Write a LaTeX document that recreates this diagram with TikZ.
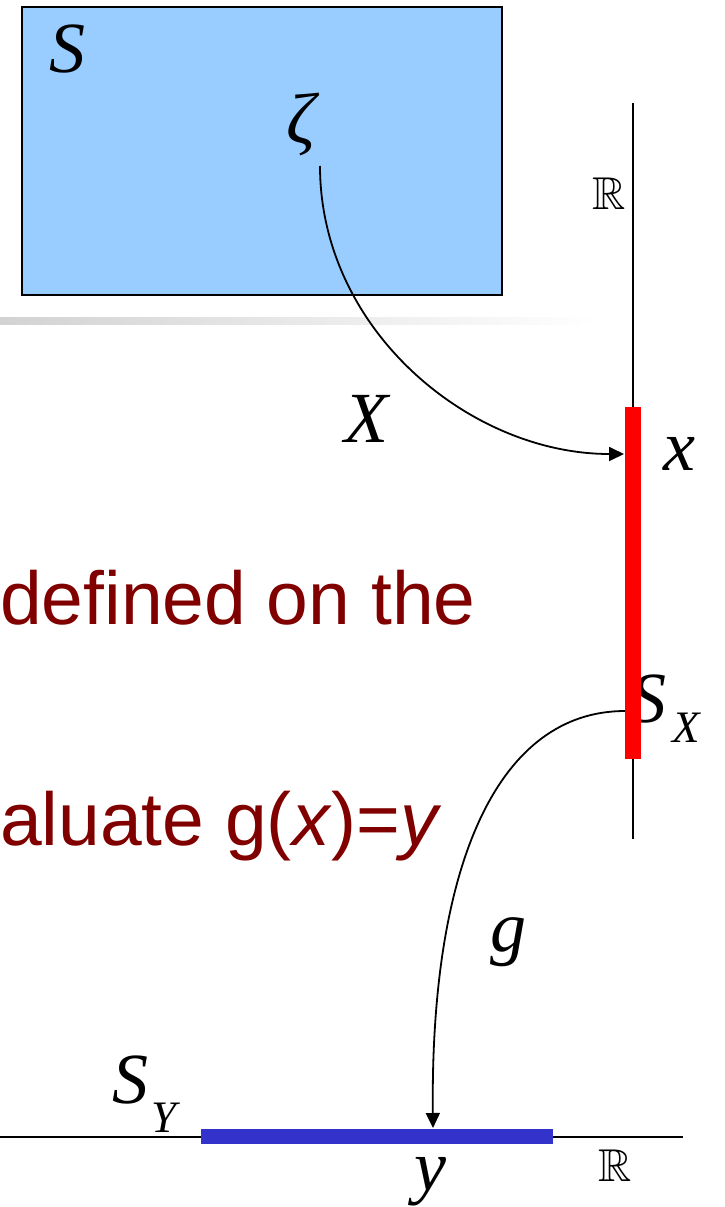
\documentclass[tikz,border=0pt]{standalone}
\usepackage{fontspec}
\usepackage{amssymb}
\usetikzlibrary{arrows.meta}
\newfontfamily\tmsit{Liberation Serif Italic}
\newfontfamily\arl{Liberation Sans}
\definecolor{boxblue}{HTML}{99CCFF}
\definecolor{darkred}{HTML}{800000}
\definecolor{barblue}{HTML}{3333CC}
\begin{document}
\begin{tikzpicture}[x=1pt,y=-1pt,
  lbl/.style={inner sep=0pt,anchor=base,font=\tmsit\fontsize{72}{72}\selectfont},
  rr/.style={inner sep=0pt,font=\fontsize{46}{46}\selectfont},
  txt/.style={inner sep=0pt,anchor=base west,text=darkred,font=\arl\fontsize{75}{75}\selectfont},
  conn/.style={line width=1.8pt,-{Triangle[length=15pt,width=14pt]}},
  axis/.style={line width=2pt}]
\useasboundingbox (0,0) rectangle (725,1207);
% sample space box
\node (box) [draw=black, line width=2.5pt, fill=boxblue, minimum width=480pt, minimum height=288pt, inner sep=0pt] at (262,151) {};
\node (S) [lbl] at (67,73) {S};
\node (zeta) [inner sep=0pt, font=\tmsit\fontsize{72}{72}\selectfont] at (301,124) {ζ};
% faded rule
\shade[left color=gray!35, right color=white] (0,317) rectangle (600,324);
% vertical real line
\coordinate (vtop) at (633,103);
\coordinate (vbot) at (633,839);
\draw[axis] (vtop) -- (vbot);
\node (R1) [rr] at (609,194) {$\mathbb{R}$};
% S_X label (partly behind the bar)
\node (SX) [inner sep=0pt, anchor=base west, font=\tmsit\fontsize{72}{72}\selectfont] at (630,722) {S\kern6pt\raisebox{-20pt}{\fontsize{45}{45}\selectfont X}};
\node (sxbar) [fill=red, minimum width=16pt, minimum height=352pt, inner sep=0pt] at (633,583) {};
\node (xl) [lbl] at (679,470) {x};
\node (Xl) [lbl] at (366,442) {X};
% mapping X
\coordinate (c1) at (320,166);
\coordinate (c2) at (624,454);
\draw[conn] (c1) .. controls (320,330) and (470,454) .. (c2);
% text
\node (t1) [txt] at (0,624) {defined on the};
\node (t2) [txt] at (0,845) {aluate g(\textit{x})=\textit{y}};
% mapping g
\coordinate (g1) at (625,711);
\coordinate (g2) at (433,1128);
\draw[conn] (g1) .. controls (500,711) and (430,860) .. (g2);
\node (gl) [lbl] at (508,951) {g};
% horizontal real line
\coordinate (hl) at (0,1137);
\coordinate (hr) at (683,1137);
\draw[axis] (hl) -- (hr);
\node (sybar) [fill=barblue, minimum width=352pt, minimum height=15pt, inner sep=0pt] at (377,1136.5) {};
\node (SY) [inner sep=0pt, anchor=base west, font=\tmsit\fontsize{72}{72}\selectfont] at (112,1103) {S\kern3pt\raisebox{-29pt}{\fontsize{45}{45}\selectfont Y}};
\node (yl) [lbl] at (430,1190) {y};
\node (R2) [rr] at (615,1166) {$\mathbb{R}$};
\end{tikzpicture}
\end{document}
